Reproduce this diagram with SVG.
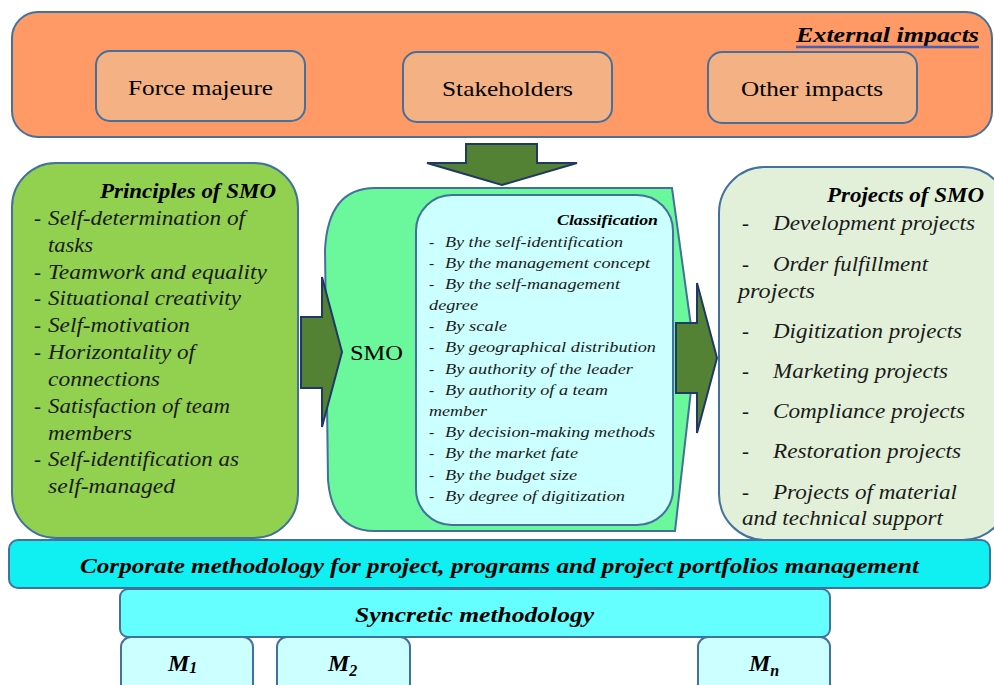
<svg xmlns="http://www.w3.org/2000/svg" width="994" height="685" viewBox="0 0 994 685" font-family="'Liberation Serif', Tinos, 'Times New Roman', Times, 'Nimbus Roman', FreeSerif, 'DejaVu Serif', serif">
<style>
.box{stroke:#41719C;stroke-width:2}
.arrow{fill:#548235;stroke:#1F3864;stroke-width:2;stroke-linejoin:miter}
.tnr{fill:#000}
.it{font-style:italic;fill:#1a1a1a}
.bi{font-style:italic;font-weight:bold;fill:#000}
</style>
<rect width="994" height="685" fill="#fff"/>
<g id="external">
<rect class="box" x="12" y="12" width="980" height="125" rx="26" fill="#FF9966"/>
<text class="bi" x="796" y="42" font-size="22" textLength="183" lengthAdjust="spacingAndGlyphs">External  impacts</text>
<line x1="796" y1="47" x2="979" y2="47" stroke="#4A5FB0" stroke-width="2.5"/>
</g>
<g id="force">
<rect class="box" x="96" y="51" width="209" height="70" rx="14" fill="#F4B183"/>
<text class="tnr" x="128" y="95" font-size="22" textLength="145" lengthAdjust="spacingAndGlyphs">Force majeure</text>
</g>
<g id="stakeholders">
<rect class="box" x="403" y="52" width="209" height="70" rx="14" fill="#F4B183"/>
<text class="tnr" x="442" y="96" font-size="22" textLength="131" lengthAdjust="spacingAndGlyphs">Stakeholders</text>
</g>
<g id="other">
<rect class="box" x="708" y="52" width="209" height="71" rx="14" fill="#F4B183"/>
<text class="tnr" x="741" y="96" font-size="22" textLength="142" lengthAdjust="spacingAndGlyphs">Other impacts</text>
</g>
<g id="principles">
<rect class="box" x="12" y="163" width="286" height="375" rx="44" fill="#92D050"/>
<text class="bi" x="100" y="198" font-size="21" textLength="176" lengthAdjust="spacingAndGlyphs">Principles of SMO</text>
<g class="it" font-size="21">
<text x="34" y="225">-</text><text x="48" y="225" textLength="197" lengthAdjust="spacingAndGlyphs">Self-determination of</text>
<text x="48" y="252" textLength="45" lengthAdjust="spacingAndGlyphs">tasks</text>
<text x="34" y="279">-</text><text x="48" y="279" textLength="219" lengthAdjust="spacingAndGlyphs">Teamwork and equality</text>
<text x="34" y="305">-</text><text x="48" y="305" textLength="193" lengthAdjust="spacingAndGlyphs">Situational creativity</text>
<text x="34" y="332">-</text><text x="48" y="332" textLength="142" lengthAdjust="spacingAndGlyphs">Self-motivation</text>
<text x="34" y="359">-</text><text x="48" y="359" textLength="147" lengthAdjust="spacingAndGlyphs">Horizontality of</text>
<text x="48" y="386" textLength="112" lengthAdjust="spacingAndGlyphs">connections</text>
<text x="34" y="413">-</text><text x="48" y="413" textLength="182" lengthAdjust="spacingAndGlyphs">Satisfaction of team</text>
<text x="48" y="440" textLength="84" lengthAdjust="spacingAndGlyphs">members</text>
<text x="34" y="466">-</text><text x="48" y="466" textLength="191" lengthAdjust="spacingAndGlyphs">Self-identification as</text>
<text x="48" y="493" textLength="127" lengthAdjust="spacingAndGlyphs">self-managed</text>
</g>
</g>
<g id="smo">
<path class="box" d="M375,188 L672,188 L695,355 L675,531 L375,531 Q332,531 328,480 L325,250 Q328,188 375,188 Z" fill="#6BF79C"/>
<text class="tnr" x="350" y="360" font-size="22" textLength="53" lengthAdjust="spacingAndGlyphs">SMO</text>
</g>
<g id="classification">
<rect class="box" x="416" y="195" width="257" height="330" rx="36" fill="#CCFFFF"/>
<text class="bi" x="557" y="225" font-size="15.5" textLength="101" lengthAdjust="spacingAndGlyphs">Classification</text>
<g class="it" font-size="15.5" fill="#222">
<text x="429" y="247">-</text><text x="445" y="247" textLength="178" lengthAdjust="spacingAndGlyphs">By the self-identification</text>
<text x="429" y="268">-</text><text x="445" y="268" textLength="205" lengthAdjust="spacingAndGlyphs">By the management concept</text>
<text x="429" y="289">-</text><text x="445" y="289" textLength="175" lengthAdjust="spacingAndGlyphs">By the self-management</text>
<text x="429" y="310" textLength="49" lengthAdjust="spacingAndGlyphs">degree</text>
<text x="429" y="331">-</text><text x="445" y="331" textLength="62" lengthAdjust="spacingAndGlyphs">By scale</text>
<text x="429" y="352">-</text><text x="445" y="352" textLength="211" lengthAdjust="spacingAndGlyphs">By geographical distribution</text>
<text x="429" y="374">-</text><text x="445" y="374" textLength="188" lengthAdjust="spacingAndGlyphs">By authority of the leader</text>
<text x="429" y="395">-</text><text x="445" y="395" textLength="163" lengthAdjust="spacingAndGlyphs">By authority of a team</text>
<text x="429" y="416" textLength="58" lengthAdjust="spacingAndGlyphs">member</text>
<text x="429" y="437">-</text><text x="445" y="437" textLength="210" lengthAdjust="spacingAndGlyphs">By decision-making methods</text>
<text x="429" y="458">-</text><text x="445" y="458" textLength="133" lengthAdjust="spacingAndGlyphs">By the market fate</text>
<text x="429" y="480">-</text><text x="445" y="480" textLength="132" lengthAdjust="spacingAndGlyphs">By the budget size</text>
<text x="429" y="501">-</text><text x="445" y="501" textLength="180" lengthAdjust="spacingAndGlyphs">By degree of digitization</text>
</g>
</g>
<g id="projects">
<rect class="box" x="719" y="167" width="290" height="373" rx="46" fill="#E2F0D9"/>
<text class="bi" x="827" y="202" font-size="21" textLength="157" lengthAdjust="spacingAndGlyphs">Projects of SMO</text>
<g class="it" font-size="21">
<text x="742" y="230">-</text><text x="773" y="230" textLength="202" lengthAdjust="spacingAndGlyphs">Development projects</text>
<text x="742" y="271">-</text><text x="773" y="271" textLength="155" lengthAdjust="spacingAndGlyphs">Order fulfillment</text>
<text x="738" y="298" textLength="77" lengthAdjust="spacingAndGlyphs">projects</text>
<text x="742" y="338">-</text><text x="773" y="338" textLength="189" lengthAdjust="spacingAndGlyphs">Digitization projects</text>
<text x="742" y="378">-</text><text x="773" y="378" textLength="175" lengthAdjust="spacingAndGlyphs">Marketing projects</text>
<text x="742" y="418">-</text><text x="773" y="418" textLength="192" lengthAdjust="spacingAndGlyphs">Compliance projects</text>
<text x="742" y="458">-</text><text x="773" y="458" textLength="188" lengthAdjust="spacingAndGlyphs">Restoration projects</text>
<text x="742" y="499">-</text><text x="773" y="499" textLength="184" lengthAdjust="spacingAndGlyphs">Projects of material</text>
<text x="742" y="525" textLength="201" lengthAdjust="spacingAndGlyphs">and technical support</text>
</g>
</g>
<g id="connectors">
<path class="arrow" d="M466,144 L537,144 L537,163 L577,163 L502,185 L427,163 L466,163 Z"/>
<path class="arrow" d="M301,317 L322,317 L322,277 L342,352 L322,427 L322,388 L301,388 Z"/>
<path class="arrow" d="M676,323 L697,323 L697,283 L717,358 L697,433 L697,393 L676,393 Z"/>
</g>
<g id="corporate">
<rect class="box" x="9" y="540" width="981" height="48" rx="9" fill="#10F0F2"/>
<text class="bi" x="80" y="573" font-size="22" textLength="839" lengthAdjust="spacingAndGlyphs">Corporate methodology for project, programs and project portfolios management</text>
</g>
<g id="syncretic">
<rect class="box" x="120" y="589" width="710" height="48" rx="8" fill="#66FFFF"/>
<text class="bi" x="355" y="622" font-size="22" textLength="239" lengthAdjust="spacingAndGlyphs">Syncretic methodology</text>
</g>
<g id="m1">
<rect class="box" x="121" y="637" width="132" height="60" rx="10" fill="#CCFFFF"/>
<text class="bi" x="168" y="671" font-size="24">M<tspan font-size="16" dy="2">1</tspan></text>
</g>
<g id="m2">
<rect class="box" x="277" y="637" width="133" height="60" rx="10" fill="#CCFFFF"/>
<text class="bi" x="328" y="671" font-size="24">M<tspan font-size="16" dy="5">2</tspan></text>
</g>
<g id="mn">
<rect class="box" x="698" y="637" width="132" height="60" rx="10" fill="#CCFFFF"/>
<text class="bi" x="749" y="671" font-size="24">M<tspan font-size="16" dy="5">n</tspan></text>
</g>
</svg>
